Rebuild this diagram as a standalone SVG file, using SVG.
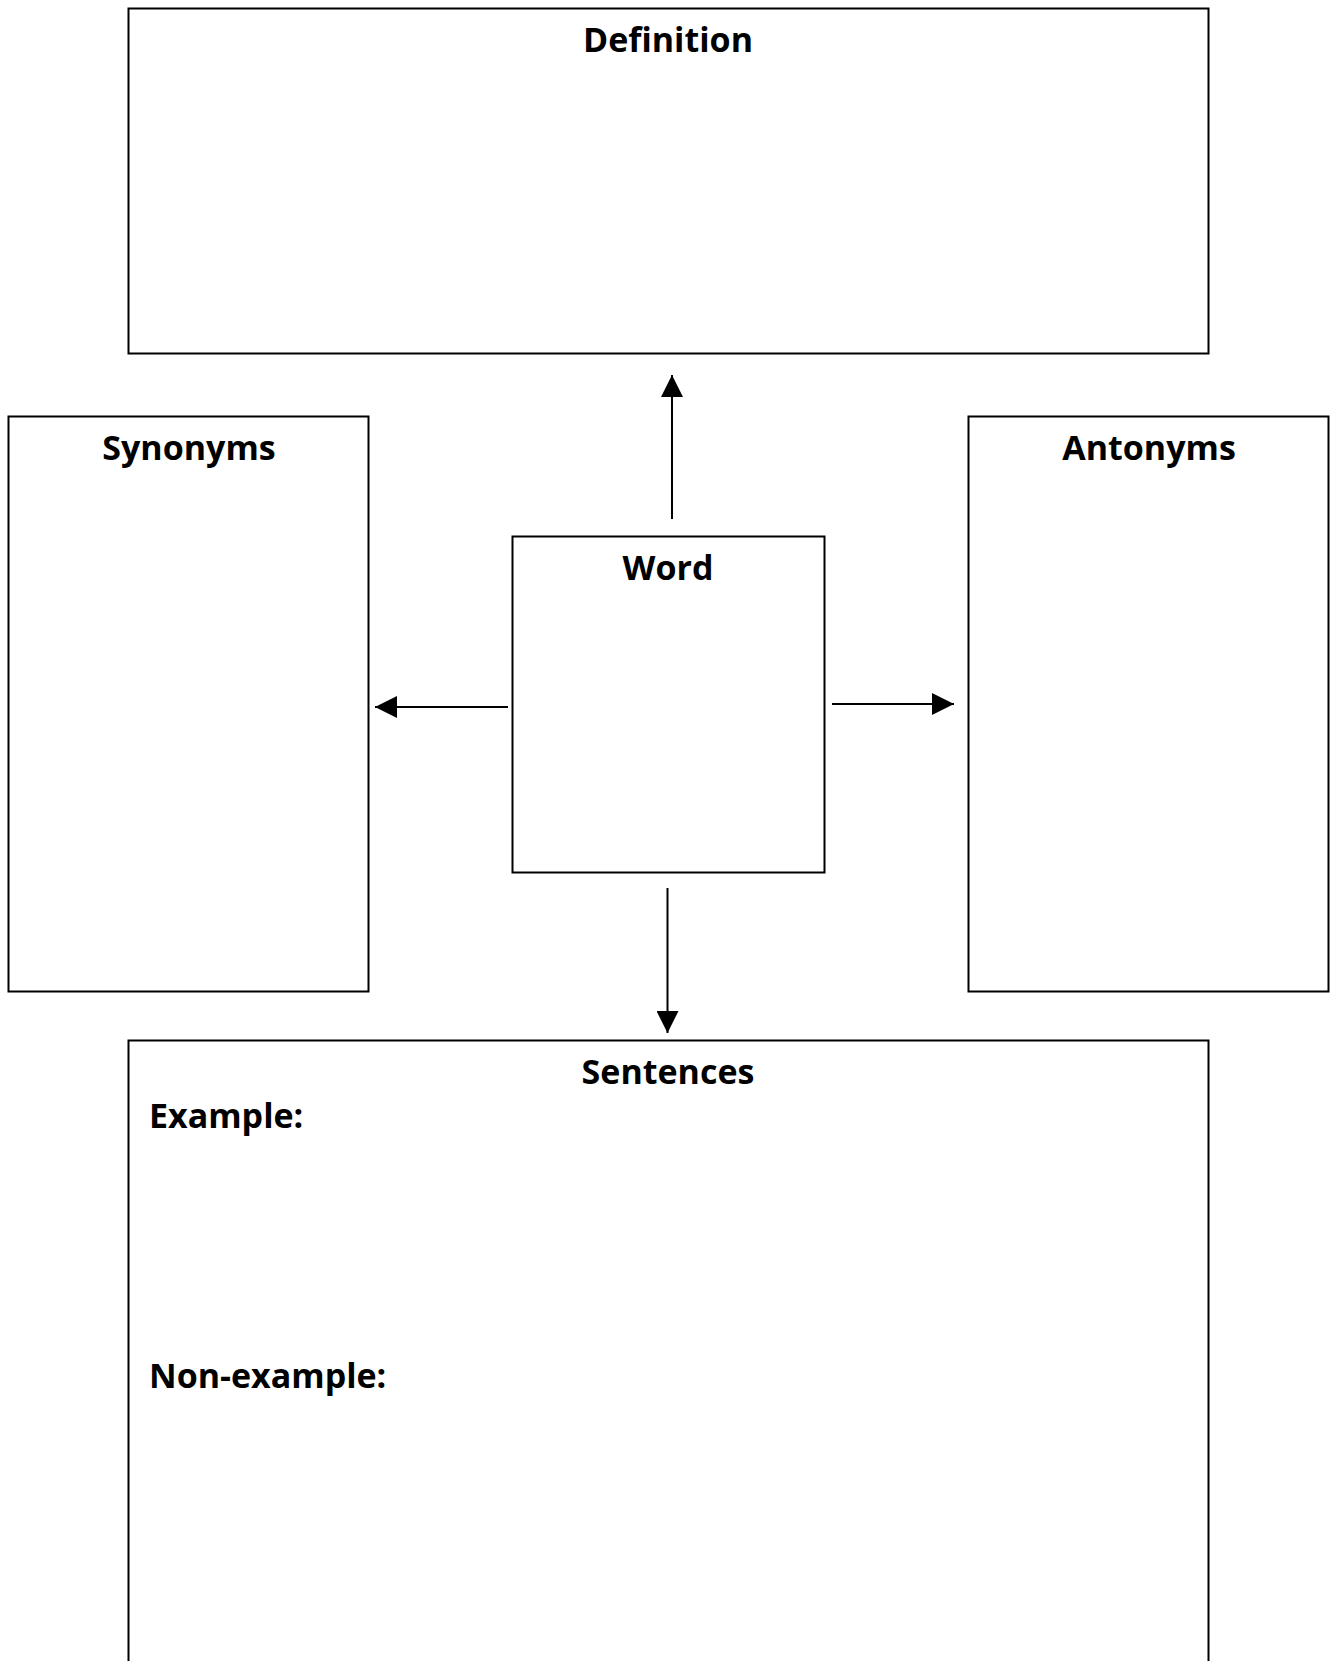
<svg xmlns="http://www.w3.org/2000/svg" width="1331" height="1661" viewBox="0 0 1331 1661">
<style>
.box{fill:#fff;stroke:#000;stroke-width:2}
.lbl{font-family:"Open Sans","Noto Sans","DejaVu Sans",sans-serif;font-weight:bold;font-size:34px;fill:#000}
.mid{text-anchor:middle}
.conn{stroke:#000;stroke-width:2;fill:none}
</style>
<defs>
<marker id="ah" viewBox="0 0 22 22" refX="22" refY="11" markerWidth="22" markerHeight="22" markerUnits="userSpaceOnUse" orient="auto">
<path d="M0,0 L22,11 L0,22 Z" fill="#000"/>
</marker>
</defs>
<rect width="1331" height="1661" fill="#fff"/>
<g id="definition">
<rect class="box" x="128.5" y="8.5" width="1080" height="345"/>
<text class="lbl mid" x="668" y="52">Definition</text>
</g>
<g id="synonyms">
<rect class="box" x="8.5" y="416.5" width="360" height="575"/>
<text class="lbl mid" x="189" y="460">Synonyms</text>
</g>
<g id="antonyms">
<rect class="box" x="968.5" y="416.5" width="360" height="575"/>
<text class="lbl mid" x="1149" y="460">Antonyms</text>
</g>
<g id="word">
<rect class="box" x="512.5" y="536.5" width="312" height="336"/>
<text class="lbl mid" x="668" y="580">Word</text>
</g>
<g id="sentences">
<rect class="box" x="128.5" y="1040.5" width="1080" height="640"/>
<text class="lbl mid" x="668" y="1084">Sentences</text>
<text class="lbl" x="149" y="1128">Example:</text>
<text class="lbl" x="149" y="1388">Non-example:</text>
</g>
<g id="connectors">
<line class="conn" x1="672" y1="519" x2="672" y2="375" marker-end="url(#ah)"/>
<line class="conn" x1="508" y1="707" x2="375" y2="707" marker-end="url(#ah)"/>
<line class="conn" x1="832" y1="704" x2="954" y2="704" marker-end="url(#ah)"/>
<line class="conn" x1="667.5" y1="888" x2="667.5" y2="1033" marker-end="url(#ah)"/>
</g>
</svg>
